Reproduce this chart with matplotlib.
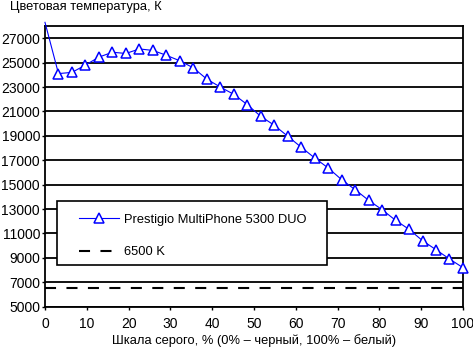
import matplotlib
matplotlib.use('Agg')
import matplotlib.pyplot as plt
from matplotlib.patches import Rectangle

plt.rcParams['font.family'] = ['Liberation Sans', 'DejaVu Sans']
plt.rcParams['font.size'] = 10

# grey scale, % (32 steps)
gray = [i * 100 / 31 for i in range(32)]
temp = [28300, 24100, 24200, 24800, 25450, 25850, 25750, 26120, 26000, 25600,
        25150, 24570, 23650, 23000, 22400, 21560, 20600, 19870, 18970, 18070,
        17190, 16370, 15410, 14590, 13720, 12950, 12080, 11340, 10410, 9670,
        8910, 8200]
ref_temp = 6500
yticks = list(range(5000, 28000, 2000))
xticks = list(range(0, 101, 10))

fig = plt.figure(figsize=(4.73, 3.49), dpi=100)
ax = fig.add_axes([0.0951, 0.1212, 0.8837, 0.8043])

for y in yticks:
    ax.axhline(y, color='black', lw=1.3, zorder=1)

ax.plot(gray, temp, color='#0000ff', lw=0.8, marker='^', ms=6.5,
        mfc='white', mec='#0000ff', mew=1.1, markevery=list(range(1, 32)),
        clip_on=False, zorder=3, label='Prestigio MultiPhone 5300 DUO')
ax.plot([0, 100], [ref_temp, ref_temp], color='black', lw=1.5,
        dashes=(5.3, 5.0), zorder=2, label='6500 K')

ax.set_xlim(0, 100)
ax.set_ylim(5000, 28000)
ax.set_xticks(xticks)
ax.set_yticks(yticks)
ax.tick_params(direction='out', length=2.5, width=1, colors='black', labelsize=10)
ax.tick_params(axis='y', pad=1)
ax.tick_params(axis='x', pad=5)
for s in ax.spines.values():
    s.set_linewidth(1.3)

ax.set_xlabel('Шкала серого, % (0% – черный, 100% – белый)', fontsize=9.3, labelpad=2)
fig.text(10 / 473, 1 - 1 / 349, 'Цветовая температура, К', fontsize=9.3, va='top', ha='left')

# legend box drawn by hand (Excel-like padding)
ax.add_patch(Rectangle((0.0287, 0.1486), 0.646, 0.228, transform=ax.transAxes,
                       facecolor='white', edgecolor='black', lw=1.2, zorder=4))
leg = ax.legend(loc='upper left', bbox_to_anchor=(0.0813, 0.332), frameon=False,
                handlelength=3.1, handletextpad=0.4, labelspacing=1.6,
                borderpad=0, borderaxespad=0, fontsize=9.3)
leg.set_zorder(5)

fig.savefig('out.png', dpi=100)
